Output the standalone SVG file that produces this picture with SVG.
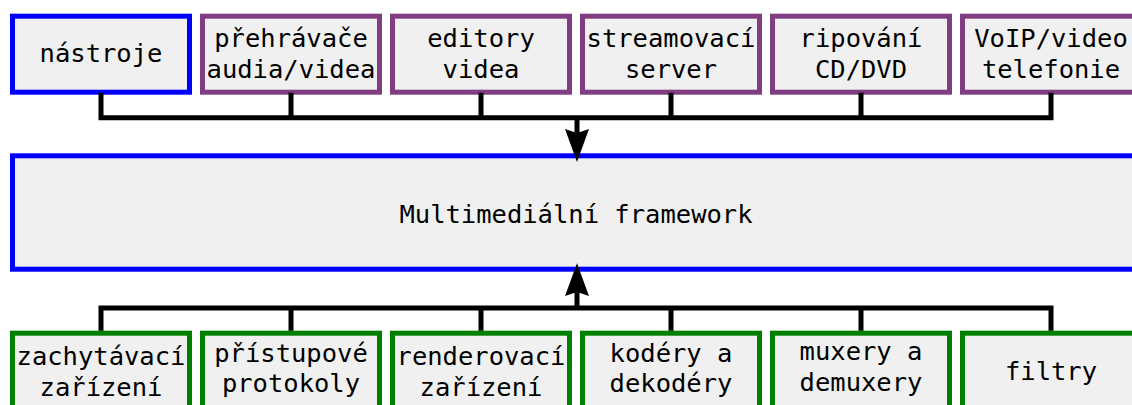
<svg xmlns="http://www.w3.org/2000/svg" width="1132" height="405" viewBox="0 0 1132 405">
<style>
.box{fill:#f0f0f0;stroke-width:5}
.blue{stroke:#0000ff}
.purple{stroke:#813d81}
.green{stroke:#008000}
text{font-family:"DejaVu Sans Mono","Liberation Mono",monospace;font-size:25.5px;fill:#000;text-anchor:middle}
.wire{fill:none;stroke:#000;stroke-width:5}
</style>
<rect width="1132" height="405" fill="#ffffff"/>
<g id="nastroje"><rect class="box blue" x="12.5" y="16.2" width="177" height="76"/><text x="101" y="61.7">nástroje</text></g>
<g id="prehravace"><rect class="box purple" x="202.5" y="16.2" width="177" height="76"/><text x="291" y="46.7">přehrávače</text><text x="291" y="77.7">audia/videa</text></g>
<g id="editory"><rect class="box purple" x="392.5" y="16.2" width="177" height="76"/><text x="481" y="46.7">editory</text><text x="481" y="77.7">videa</text></g>
<g id="streamovaci"><rect class="box purple" x="582.5" y="16.2" width="177" height="76"/><text x="671" y="46.7">streamovací</text><text x="671" y="77.7">server</text></g>
<g id="ripovani"><rect class="box purple" x="772.5" y="16.2" width="177" height="76"/><text x="861" y="46.7">ripování</text><text x="861" y="77.7">CD/DVD</text></g>
<g id="voip"><rect class="box purple" x="962.5" y="16.2" width="177" height="76"/><text x="1051" y="46.7">VoIP/video</text><text x="1051" y="77.7">telefonie</text></g>
<g id="framework"><rect class="box blue" x="12.5" y="155.8" width="1127" height="113.4"/><text x="576" y="223.3">Multimediální framework</text></g>
<g id="zachytavaci"><rect class="box green" x="12.5" y="333.2" width="177" height="80"/><text x="101" y="365">zachytávací</text><text x="101" y="395.5">zařízení</text></g>
<g id="pristupove"><rect class="box green" x="202.5" y="333.2" width="177" height="80"/><text x="291" y="361.5">přístupové</text><text x="291" y="392">protokoly</text></g>
<g id="renderovaci"><rect class="box green" x="392.5" y="333.2" width="177" height="80"/><text x="481" y="365">renderovací</text><text x="481" y="395.5">zařízení</text></g>
<g id="kodery"><rect class="box green" x="582.5" y="333.2" width="177" height="80"/><text x="671" y="361.5">kodéry a</text><text x="671" y="392">dekodéry</text></g>
<g id="muxery"><rect class="box green" x="772.5" y="333.2" width="177" height="80"/><text x="861" y="360">muxery a</text><text x="861" y="390.5">demuxery</text></g>
<g id="filtry"><rect class="box green" x="962.5" y="333.2" width="177" height="80"/><text x="1051" y="379.5">filtry</text></g>
<g id="connectors">
<path class="wire" d="M101 92.7V117.8H1051V92.7M291 92.7V117.8M481 92.7V117.8M671 92.7V117.8M861 92.7V117.8M577 117.8V134"/>
<polygon points="577,162 565,129 577,133 589,129" fill="#000"/>
<path class="wire" d="M101 330.7V308H1051V330.7M291 330.7V308M481 330.7V308M671 330.7V308M861 330.7V308M577 308V292"/>
<polygon points="577,263.3 565,296 577,292 589,296" fill="#000"/>
</g>
</svg>
